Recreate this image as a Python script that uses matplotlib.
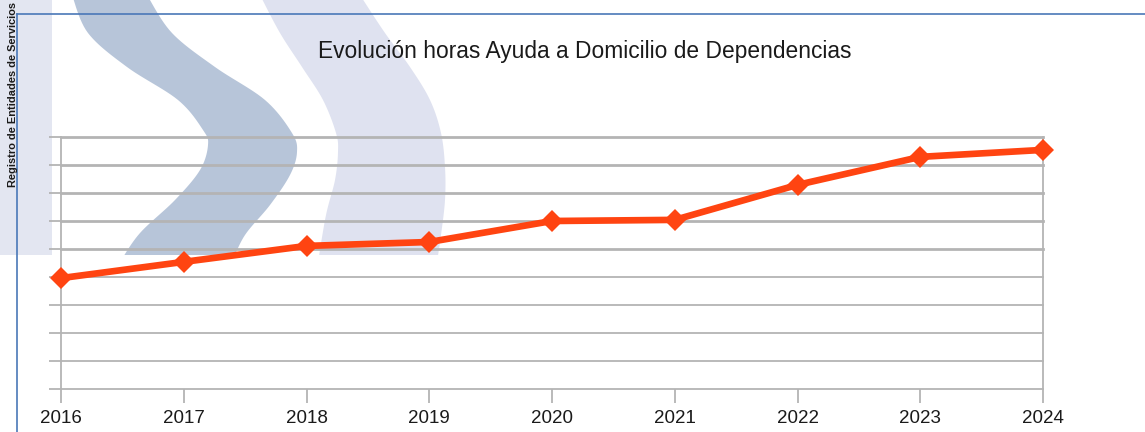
import numpy as np
import matplotlib
matplotlib.use("Agg")
import matplotlib.pyplot as plt
from matplotlib.patches import Polygon, Rectangle

## Data ----------------------
years = [2016, 2017, 2018, 2019, 2020, 2021, 2022, 2023, 2024]
horas = [3.96, 4.54, 5.11, 5.25, 6.0, 6.04, 7.29, 8.29, 8.54]
grid_levels = list(range(0, 10))

title = "Evolución horas Ayuda a Domicilio de Dependencias"
side_text = "Registro de Entidades de Servicios"

plt.rcParams["font.family"] = ["Liberation Sans", "DejaVu Sans"]


## Helper functions ----------------------

# Smooth an outline of the watermark (Catmull-Rom), decoration only
def smooth(points, n=12):
    p = np.array(points, dtype=float)
    p = np.vstack([p[0], p, p[-1]])
    out = []
    for i in range(1, len(p) - 2):
        p0, p1, p2, p3 = p[i - 1], p[i], p[i + 1], p[i + 2]
        for t in np.linspace(0, 1, n, endpoint=False):
            out.append(0.5 * (2 * p1 + (-p0 + p2) * t
                              + (2 * p0 - 5 * p1 + 4 * p2 - p3) * t ** 2
                              + (-p0 + 3 * p1 - 3 * p2 + p3) * t ** 3))
    out.append(p[-2])
    return [tuple(q) for q in out]


fig = plt.figure(figsize=(11.45, 4.32), dpi=100)

## Background watermark (pixel coordinates) ----------------------
bg = fig.add_axes([0, 0, 1, 1], zorder=0)
bg.set_xlim(0, 1145)
bg.set_ylim(432, 0)
bg.axis("off")

# left lavender strip
bg.add_patch(Rectangle((0, 0), 52, 255, color="#e3e6f1", lw=0))

# dark S stroke
dark_left = [(72, -5), (88, 33), (127, 67), (178, 100), (203, 130), (208, 145),
             (200, 170), (175, 200), (140, 233), (120, 262)]
dark_right = [(147, -5), (172, 33), (215, 67), (265, 100), (292, 133), (297, 152),
              (290, 175), (270, 205), (245, 235), (232, 262)]
bg.add_patch(Polygon(smooth(dark_left) + smooth(dark_right)[::-1], closed=True,
                     color="#b7c5d9", lw=0))

# light S stroke
light_left = [(260, -5), (280, 33), (302, 67), (323, 100), (336, 133), (338, 152),
              (335, 180), (326, 215), (318, 262)]
light_right = [(360, -5), (385, 33), (410, 67), (430, 100), (441, 133), (445, 167),
               (445, 200), (441, 235), (437, 262)]
bg.add_patch(Polygon(smooth(light_left) + smooth(light_right)[::-1], closed=True,
                     color="#dfe2f0", lw=0))

# cut the watermark at its bottom edge
bg.add_patch(Rectangle((52, 255), 500, 20, color="white", lw=0))

# blue frame lines
bg.plot([17, 1145], [14, 14], color="#4a78b8", lw=1.2)
bg.plot([17, 17], [14, 432], color="#4a78b8", lw=1.2)

bg.text(13, 187, side_text, rotation=90, ha="center", va="bottom",
        fontsize=7.9, fontweight="bold", color="#1a1a1a")

fig.text(0.511, 0.88, title, ha="center", va="center",
         fontsize=16.4, color="#1a1a1a")

## Main chart ----------------------
ax = fig.add_axes([61 / 1145, 43 / 432, 982 / 1145, 252 / 432], zorder=1)
ax.set_facecolor("none")
ax.set_xlim(years[0], years[-1])
ax.set_ylim(grid_levels[0], grid_levels[-1])

for lvl in grid_levels:
    ax.axhline(lvl, color="#b4b4b4", lw=2.0 if lvl >= 5 else 1.3, zorder=1,
               clip_on=False)

for side in ["left", "right"]:
    ax.spines[side].set_color("#b4b4b4")
    ax.spines[side].set_linewidth(1.3)
for side in ["top", "bottom"]:
    ax.spines[side].set_visible(False)

ax.set_xticks(years)
ax.set_xticklabels([str(y) for y in years])
ax.set_yticks(grid_levels)
ax.set_yticklabels([])
ax.tick_params(axis="x", length=10, width=1.3, color="#b4b4b4",
               labelsize=13.5, labelcolor="#1a1a1a", pad=5)
ax.tick_params(axis="y", length=9, width=1.3, color="#b4b4b4")

ax.plot(years, horas, color="#ff4411", lw=4.8, marker="D", markersize=11.5,
        markeredgewidth=0, zorder=3, clip_on=False)

fig.savefig("out.png", dpi=100)
